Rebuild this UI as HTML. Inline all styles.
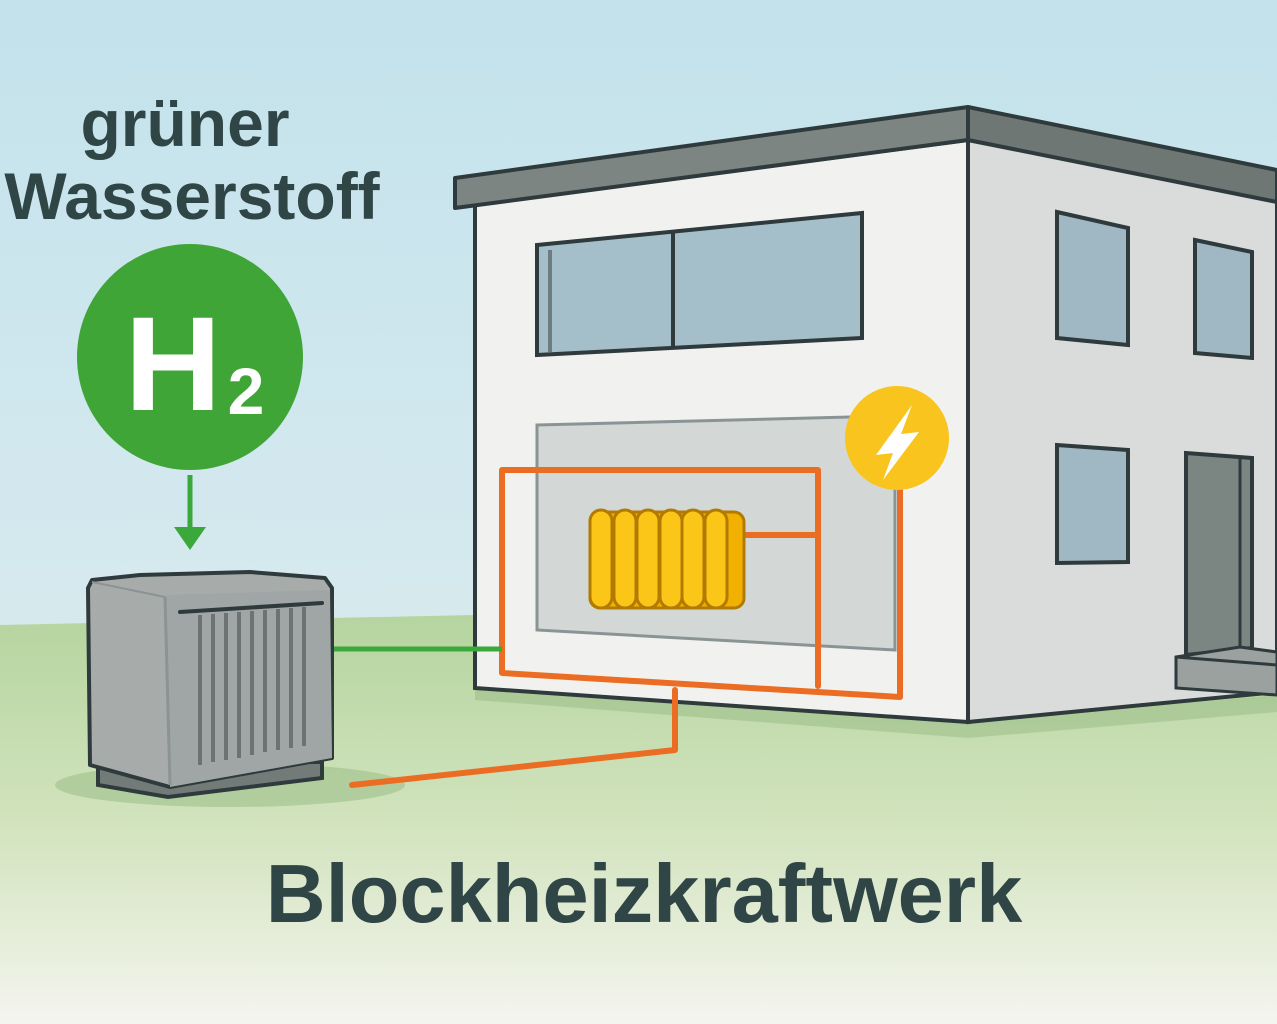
<!DOCTYPE html>
<html><head><meta charset="utf-8"><style>html,body{margin:0;padding:0;width:1277px;height:1024px;overflow:hidden}</style></head><body>
<svg width="1277" height="1024" viewBox="0 0 1277 1024" xmlns="http://www.w3.org/2000/svg" font-family="Liberation Sans, sans-serif">
<defs>
<linearGradient id="sky" x1="0" y1="0" x2="0" y2="1"><stop offset="0" stop-color="#c3e2ec"/><stop offset="1" stop-color="#e3eff0"/></linearGradient>
<linearGradient id="gr" x1="0" y1="0" x2="0" y2="1"><stop offset="0" stop-color="#b3d39c"/><stop offset="0.55" stop-color="#d3e4bf"/><stop offset="1" stop-color="#f5f5ef"/></linearGradient>
</defs>
<rect width="1277" height="1024" fill="url(#sky)"/>
<polygon points="0,625 1277,598 1277,1024 0,1024" fill="url(#gr)"/>
<ellipse cx="230" cy="785" rx="175" ry="22" fill="#9fbf8a" opacity="0.6"/>
<polygon points="475,688 968,722 1277,695 1277,712 968,738 475,700" fill="#9fbf8a" opacity="0.6"/>
<polygon points="968,140 1277,200 1277,692 968,722" fill="#d9dcda" stroke="#2e3a3c" stroke-width="4"/>
<polygon points="475,205 968,140 968,722 475,688" fill="#f1f2f0" stroke="#2e3a3c" stroke-width="4"/>
<polygon points="455,178 968,107 968,140 455,208" fill="#7d8583" stroke="#2e3a3c" stroke-width="4" stroke-linejoin="round"/>
<polygon points="968,107 1277,170 1277,202 968,140" fill="#6f7775" stroke="#2e3a3c" stroke-width="4" stroke-linejoin="round"/>
<polygon points="537,245 862,213 862,338 537,355" fill="#a5bfca" stroke="#2e3a3c" stroke-width="4"/>
<line x1="673" y1="232" x2="673" y2="348" stroke="#2e3a3c" stroke-width="4"/>
<line x1="550" y1="250" x2="550" y2="352" stroke="#6f7b80" stroke-width="4"/>
<polygon points="1057,212 1128,228 1128,345 1057,338" fill="#9fb8c3" stroke="#2e3a3c" stroke-width="4"/>
<polygon points="1195,240 1252,252 1252,358 1195,353" fill="#9fb8c3" stroke="#2e3a3c" stroke-width="4"/>
<polygon points="1057,445 1128,450 1128,562 1057,563" fill="#9fb8c3" stroke="#2e3a3c" stroke-width="4"/>
<polygon points="1186,453 1252,458 1252,648 1186,655" fill="#7b8582" stroke="#2e3a3c" stroke-width="4"/>
<line x1="1240" y1="458" x2="1240" y2="648" stroke="#2e3a3c" stroke-width="3"/>
<polygon points="1176,657 1240,647 1277,652 1277,695 1176,688" fill="#9aa19f" stroke="#2e3a3c" stroke-width="3"/>
<line x1="1176" y1="657" x2="1277" y2="665" stroke="#2e3a3c" stroke-width="3"/>
<polygon points="537,425 850,417 895,417 895,650 537,630" fill="#d3d8d6" stroke="#8a9494" stroke-width="3"/>
<g fill="none" stroke="#eb6d23" stroke-width="6" stroke-linejoin="round" stroke-linecap="round">
<polyline points="818,686 818,470 502,470 502,673 900,697 900,490"/>
<line x1="734" y1="535" x2="818" y2="535"/>
<polyline points="675,690 675,750 352,785"/>
</g>
<line x1="333" y1="649" x2="502" y2="649" stroke="#3aa83a" stroke-width="5"/>
<rect x="590" y="512" width="154" height="96" rx="10" fill="#f2b000" stroke="#b37a00" stroke-width="3"/>
<g fill="#fcc619" stroke="#b37a00" stroke-width="3">
<rect x="590" y="510" width="22" height="98" rx="11"/>
<rect x="614" y="510" width="22" height="98" rx="11"/>
<rect x="637" y="510" width="22" height="98" rx="11"/>
<rect x="660" y="510" width="22" height="98" rx="11"/>
<rect x="682" y="510" width="22" height="98" rx="11"/>
<rect x="705" y="510" width="22" height="98" rx="11"/>
</g>
<circle cx="897" cy="438" r="52" fill="#f8c41d"/>
<polygon points="912,405 876,455 893,453 883,480 919,432 901,434" fill="#fff"/>
<circle cx="190" cy="357" r="113" fill="#40a537"/>
<text x="173" y="410" font-size="134" font-weight="bold" fill="#fff" text-anchor="middle">H</text>
<text x="246" y="414" font-size="66" font-weight="bold" fill="#fff" text-anchor="middle">2</text>
<line x1="190" y1="475" x2="190" y2="530" stroke="#3aa83a" stroke-width="5"/>
<polygon points="174,527 206,527 190,550" fill="#3aa83a"/>
<polygon points="98,762 322,762 322,778 168,797 98,785" fill="#737b79" stroke="#2e3a3c" stroke-width="4"/>
<polygon points="92,580 140,575 250,572 325,578 332,588 332,758 170,787 90,765 88,588" fill="#a7acab" stroke="#2e3a3c" stroke-width="4" stroke-linejoin="round"/>
<polygon points="165,595 330,590 332,758 170,787" fill="#a0a6a5"/>
<line x1="165" y1="597" x2="170" y2="785" stroke="#8c9392" stroke-width="3"/>
<line x1="92" y1="582" x2="165" y2="597" stroke="#8c9392" stroke-width="2"/>
<line x1="180" y1="612" x2="322" y2="603" stroke="#2e3a3c" stroke-width="4" stroke-linecap="round"/>
<g stroke="#6c7473" stroke-width="4">
<line x1="200" y1="615" x2="200" y2="765"/><line x1="213" y1="614" x2="213" y2="762"/><line x1="226" y1="613" x2="226" y2="760"/><line x1="239" y1="612" x2="239" y2="758"/><line x1="252" y1="611" x2="252" y2="755"/><line x1="265" y1="610" x2="265" y2="752"/><line x1="278" y1="609" x2="278" y2="750"/><line x1="291" y1="608" x2="291" y2="748"/><line x1="304" y1="607" x2="304" y2="746"/>
</g>
<text x="185" y="146" font-size="66" font-weight="bold" fill="#2f4546" text-anchor="middle">grüner</text>
<text x="192" y="219" font-size="66" font-weight="bold" fill="#2f4546" text-anchor="middle">Wasserstoff</text>
<text x="644" y="922" font-size="83" font-weight="bold" fill="#2f4546" text-anchor="middle">Blockheizkraftwerk</text>
</svg>
</body></html>
